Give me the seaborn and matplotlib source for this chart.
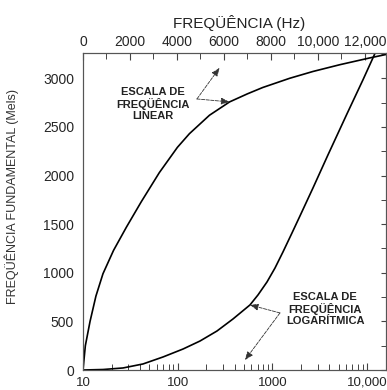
import numpy as np
import pandas as pd
import seaborn as sns
import matplotlib.pyplot as plt
from matplotlib.ticker import FixedLocator, FixedFormatter, MultipleLocator, LogLocator, NullFormatter

# curva da escala linear (eixo de cima, Hz)
lin_hz = [0, 100, 300, 550, 850, 1300, 1850, 2480, 3250, 4020, 4530, 5385, 6240, 7000, 7650, 8800, 9790, 10940, 12220, 12906]
lin_mel = [0, 250, 500, 760, 990, 1230, 1470, 1730, 2030, 2290, 2430, 2620, 2757, 2840, 2905, 3000, 3070, 3140, 3210, 3245]

# curva da escala logaritmica (eixo de baixo, Hz)
log_hz = [10, 16.3, 26.5, 43, 70, 114, 172, 260, 384, 580, 705, 877, 1066, 1294, 1611, 1956, 2684, 3865, 6135, 9052, 11543, 12120]
log_mel = [0, 5, 21, 62, 134, 216, 298, 401, 525, 669, 772, 905, 1049, 1214, 1409, 1584, 1872, 2212, 2634, 2984, 3210, 3256]

log_ticks = [10, 100, 1000, 10000]
log_labels = ['10', '100', '1000', '10,000']
lin_ticks = [0, 2000, 4000, 6000, 8000, 10000, 12000]
lin_labels = ['0', '2000', '4000', '6000', '8000', '10,000', '12,000']
mel_ticks = [0, 500, 1000, 1500, 2000, 2500, 3000]

sns.set_style("white")
plt.rcParams['font.family'] = ['Liberation Sans', 'DejaVu Sans']

df_lin = pd.DataFrame({'hz': lin_hz, 'mel': lin_mel})
df_log = pd.DataFrame({'hz': log_hz, 'mel': log_mel})

fig = plt.figure(figsize=(3.87, 3.90), dpi=100)
ax = fig.add_axes([83/387, 20/390, 303/387, 317/390])
ax.set_xscale('log')
ax.set_xlim(10, 15850)
ax.set_ylim(0, 3260)

ax2 = ax.twiny()
ax2.set_xlim(0, 12900)

sns.lineplot(data=df_log, x='hz', y='mel', ax=ax, color='black', linewidth=1.2, sort=False, estimator=None)
sns.lineplot(data=df_lin, x='hz', y='mel', ax=ax2, color='black', linewidth=1.2, sort=False, estimator=None)

for a in [ax, ax2]:
    for s in a.spines.values():
        s.set_color('#555555')
        s.set_linewidth(0.8)
        s.set_visible(True)

# eixo de baixo (log)
ax.xaxis.set_major_locator(FixedLocator(log_ticks))
ax.xaxis.set_major_formatter(FixedFormatter(log_labels))
ax.xaxis.set_minor_locator(LogLocator(base=10, subs=np.arange(2, 10)))
ax.xaxis.set_minor_formatter(NullFormatter())
ax.tick_params(axis='x', which='major', direction='in', length=5, width=0.8, pad=5, labelsize=9.5, color='#444444')
ax.tick_params(axis='x', which='minor', direction='in', length=4, width=0.7, color='#444444')

# eixo y
ax.yaxis.set_major_locator(FixedLocator(mel_ticks))
ax.yaxis.set_minor_locator(MultipleLocator(250))
ax.tick_params(axis='y', which='major', direction='inout', length=7, width=0.8, pad=3, labelsize=10,
               right=True, color='#444444')
ax.tick_params(axis='y', which='minor', direction='in', length=3.5, width=0.7, right=True, color='#444444')
ax.set_xlabel('')
ax.set_ylabel('FREQÜÊNCIA FUNDAMENTAL (Mels)', fontsize=9, color='#333333')
ax.yaxis.set_label_coords(-0.234, 0.546)
ax.yaxis.label.set_va('center')

# eixo de cima (linear)
ax2.xaxis.set_major_locator(FixedLocator(lin_ticks))
ax2.xaxis.set_major_formatter(FixedFormatter(lin_labels))
ax2.xaxis.set_minor_locator(MultipleLocator(1000))
ax2.tick_params(axis='x', which='major', direction='in', length=5, width=0.8, pad=3, labelsize=10, color='#444444')
ax2.tick_params(axis='x', which='minor', direction='in', length=4, width=0.7, color='#444444')
ax2.set_xlabel('FREQÜÊNCIA (Hz)', fontsize=11, color='#222222')
ax2.xaxis.set_label_coords(0.515, 1.095)
ax2.xaxis.label.set_va('center')
ax2.set_ylabel('')

# anotacoes
ax2.text(0.231, 0.839, 'ESCALA DE\nFREQÜÊNCIA\nLINEAR', transform=ax2.transAxes, ha='center', va='center',
         fontsize=8, fontweight='bold', linespacing=1.1, color='#222222')
arrow = dict(arrowstyle='-|>,head_length=0.5,head_width=0.2', color='#333333', lw=0.6, linestyle=(0, (4, 1.5)),
             shrinkA=0, shrinkB=0)
ax2.annotate('', xy=(5812, 3107), xycoords='data', xytext=(0.376, 0.855), textcoords='axes fraction', arrowprops=arrow)
ax2.annotate('', xy=(6239, 2757), xycoords='data', xytext=(0.376, 0.855), textcoords='axes fraction', arrowprops=arrow)

ax.text(0.799, 0.192, 'ESCALA DE\nFREQÜÊNCIA\nLOGARÍTMICA', transform=ax.transAxes, ha='center', va='center',
        fontsize=8, fontweight='bold', linespacing=1.1, color='#222222')
ax.annotate('', xy=(580, 669), xycoords='data', xytext=(0.650, 0.180), textcoords='axes fraction', arrowprops=arrow)
ax.annotate('', xy=(514, 103), xycoords='data', xytext=(0.650, 0.180), textcoords='axes fraction', arrowprops=arrow)

plt.savefig('out.png', dpi=100)
